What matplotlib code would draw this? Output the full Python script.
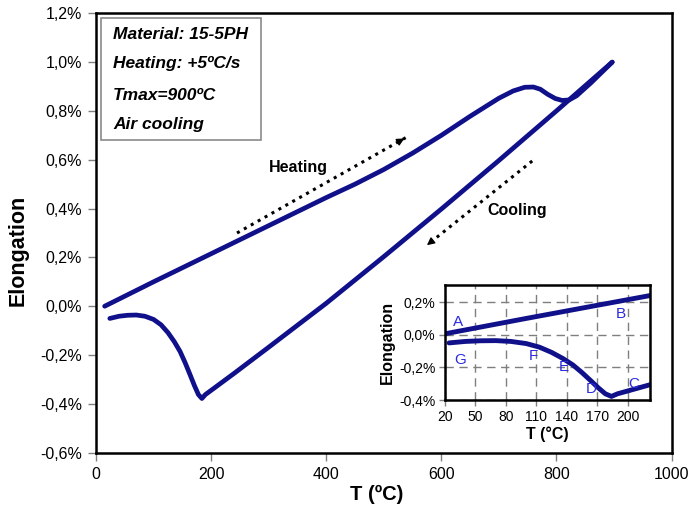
import matplotlib
matplotlib.use("Agg")
import matplotlib.pyplot as plt
from matplotlib.patches import Rectangle
from matplotlib.ticker import FuncFormatter

plt.rcParams['font.family'] = ['Liberation Sans', 'DejaVu Sans']

# ---------------- data ----------------
heat_T = [15, 100, 200, 300, 400, 450, 500, 550, 600, 650, 700, 725, 745, 760, 772, 785, 798, 810,
          822, 835, 860, 897]
heat_E = [0.0, 0.10, 0.215, 0.33, 0.445, 0.50, 0.56, 0.627, 0.70, 0.778, 0.852, 0.882, 0.897, 0.898,
          0.889, 0.868, 0.851, 0.843, 0.845, 0.862, 0.915, 1.0]

cool_T = [897, 800, 700, 600, 500, 400, 300, 240, 205, 190, 184, 178, 171, 163, 155, 146, 136, 125,
          113, 100, 85, 70, 55, 40, 24]
cool_E = [1.0, 0.80, 0.597, 0.398, 0.203, 0.012, -0.168, -0.275, -0.336, -0.362, -0.378, -0.362,
          -0.325, -0.278, -0.232, -0.185, -0.145, -0.108, -0.076, -0.054, -0.041, -0.036, -0.037,
          -0.041, -0.05]

x_ticks = [0, 200, 400, 600, 800, 1000]
y_ticks = [-0.6, -0.4, -0.2, 0.0, 0.2, 0.4, 0.6, 0.8, 1.0, 1.2]
inset_x_ticks = [20, 50, 80, 110, 140, 170, 200]
inset_y_ticks = [-0.4, -0.2, 0.0, 0.2]

info_lines = ["Material: 15-5PH", "Heating: +5\u00baC/s", "Tmax=900\u00baC", "Air cooling"]
letters = ["A", "B", "C", "D", "E", "F", "G"]
letter_T = [33, 193, 206, 164, 137, 107, 35]
letter_E = [0.078, 0.13, -0.30, -0.33, -0.20, -0.13, -0.155]

line_color = '#10108a'
letter_color = '#2a2ae0'


def pct(v, pos=None):
    s = f"{v:.1f}%".replace('.', ',')
    if s == "-0,0%":
        s = "0,0%"
    return s


fig = plt.figure(figsize=(6.93, 5.14), dpi=100)
ax = fig.add_axes([96 / 693, 1 - 452.7 / 514, 575.5 / 693, 439.4 / 514])

ax.plot(heat_T, heat_E, color=line_color, lw=3.4, solid_capstyle='round', solid_joinstyle='round')
ax.plot(cool_T, cool_E, color=line_color, lw=3.4, solid_capstyle='round', solid_joinstyle='round')

ax.set_xlim(0, 1000)
ax.set_ylim(-0.6, 1.2)
ax.set_xticks(x_ticks)
ax.set_yticks(y_ticks)
ax.yaxis.set_major_formatter(FuncFormatter(pct))
ax.tick_params(direction='out', length=6, width=1, color='#808080', labelsize=11.5, pad=4)
for s in ax.spines.values():
    s.set_linewidth(1.8)
    s.set_color('black')

ax.set_xlabel("T (\u00baC)", fontsize=14.5, fontweight='bold')
ax.set_ylabel("Elongation", fontsize=15.5, fontweight='bold')
ax.xaxis.set_label_coords(0.487, -0.096)
ax.xaxis.label.set_va('center')
ax.yaxis.set_label_coords(-0.136, 0.461)
ax.yaxis.label.set_va('center')

# info box
ax.add_patch(Rectangle((0.0087, 0.712), 0.278, 0.277, transform=ax.transAxes,
                       fill=False, edgecolor='#8a8a8a', lw=1.2, zorder=3))
for txt, yy in zip(info_lines, [0.951, 0.885, 0.812, 0.746]):
    ax.text(0.0295, yy, txt, transform=ax.transAxes, fontsize=12.5, fontweight='bold',
            fontstyle='italic', va='center', ha='left')

# arrows
def dotted_arrow(x0, y0, x1, y1):
    ax.plot([x0, x1], [y0, y1], ls=(0, (1, 1.6)), lw=2.2, color='black')
    ax.annotate('', xy=(x1, y1), xytext=(x1 - (x1 - x0) * 0.04, y1 - (y1 - y0) * 0.04),
                arrowprops=dict(arrowstyle='-|>', color='black', lw=1, mutation_scale=11))

dotted_arrow(245, 0.30, 540, 0.693)
dotted_arrow(758, 0.595, 575, 0.25)
ax.text(351, 0.57, "Heating", fontsize=11.5, fontweight='bold', ha='center', va='center')
ax.text(731, 0.394, "Cooling", fontsize=11.5, fontweight='bold', ha='center', va='center')

# inset
ins = fig.add_axes([445 / 693, 1 - 400 / 514, 205 / 693, 115 / 514])
ins.plot(heat_T, heat_E, color=line_color, lw=3.5, solid_capstyle='round')
ins.plot(cool_T, cool_E, color=line_color, lw=3.5, solid_capstyle='round')
ins.set_xlim(20, 222)
ins.set_ylim(-0.4, 0.305)
ins.set_xticks(inset_x_ticks)
ins.set_yticks(inset_y_ticks)
ins.yaxis.set_major_formatter(FuncFormatter(pct))
ins.grid(True, color='#7f7f7f', ls=(0, (6, 4)), lw=1)
ins.set_axisbelow(True)
ins.tick_params(direction='out', length=4, width=1, color='#808080', labelsize=10, pad=3)
for s in ins.spines.values():
    s.set_linewidth(1.8)
    s.set_color('black')
ins.set_xlabel("T (\u00b0C)", fontsize=11.5, fontweight='bold', labelpad=2)
ins.set_ylabel("Elongation", fontsize=11.5, fontweight='bold', labelpad=3)
for L, t, e in zip(letters, letter_T, letter_E):
    ins.text(t, e, L, color=letter_color, fontsize=11, ha='center', va='center')

fig.savefig("out.png", dpi=100)
